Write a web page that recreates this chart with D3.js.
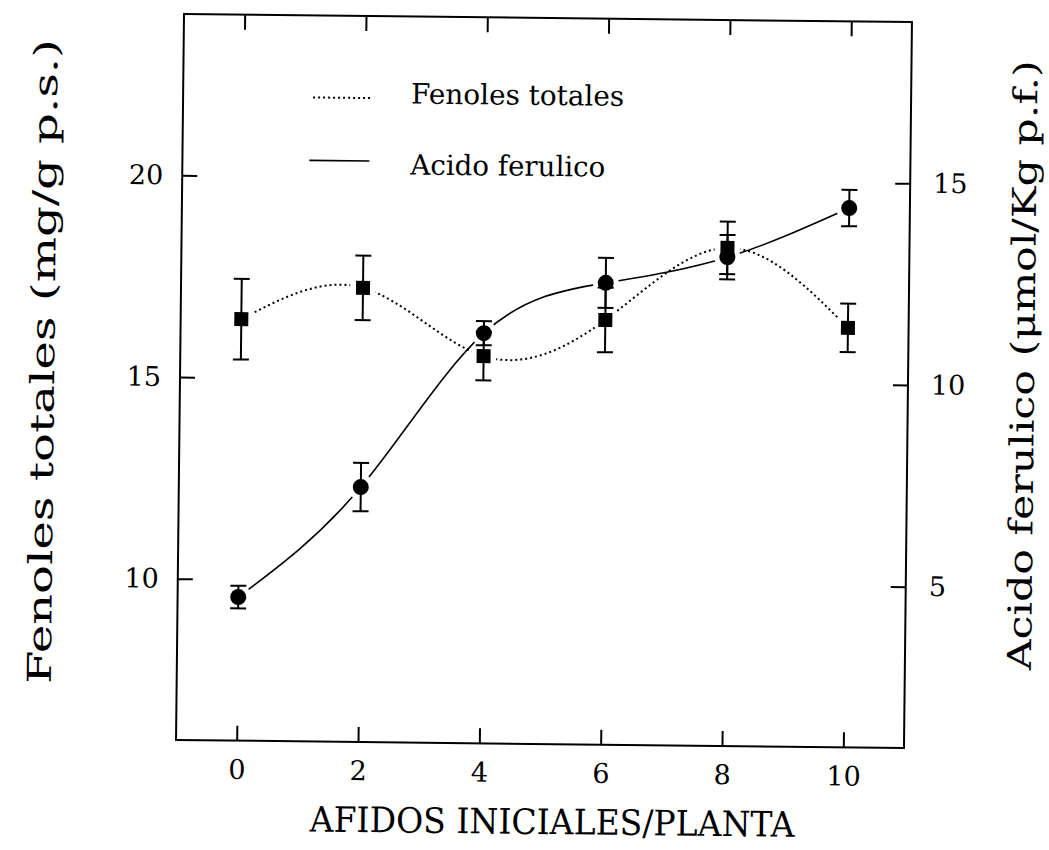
<!DOCTYPE html>
<html>
<head>
<meta charset="utf-8">
<script src="https://cdn.jsdelivr.net/npm/d3@7"></script>
<style>
  body { margin: 0; background: #fff; }
  text { font-family: "DejaVu Serif", "Liberation Serif", serif; fill: #000; }
</style>
</head>
<body>
<svg id="chart"></svg>
<script>
// data
let afidos = [0, 2, 4, 6, 8, 10];
let fenoles = [16.45, 17.26, 15.6, 16.53, 18.35, 16.4];
let fenolesErr = [1.0, 0.8, 0.6, 0.8, 0.65, 0.6];
let ferulico = [4.56, 7.32, 11.17, 12.45, 13.12, 14.37];
let ferulicoErr = [0.28, 0.6, 0.3, 0.62, 0.55, 0.45];
let xTicks = [0, 2, 4, 6, 8, 10];
let leftTicks = [10, 15, 20];
let rightTicks = [5, 10, 15];

let W = 1049, H = 850;
let margin = {top: 18, right: 141, bottom: 106, left: 180};
let width = W - margin.left - margin.right;
let height = H - margin.top - margin.bottom;

let svg = d3.select('#chart').attr('width', W).attr('height', H);
// the scanned figure sits slightly tilted
let root = svg.append('g').attr('transform', 'rotate(0.63, 544, 380)');
let g = root.append('g').attr('transform', 'translate(' + margin.left + ',' + margin.top + ')');

let x = d3.scaleLinear().domain([-1, 11]).range([0, width]);
let yL = d3.scaleLinear().domain([6, 24]).range([height, 0]);
let yR = d3.scaleLinear().domain([1, 19]).range([height, 0]);

// frame
g.append('rect').attr('width', width).attr('height', height)
  .attr('fill', 'none').attr('stroke', '#000').attr('stroke-width', 2);

// axes with inward ticks
let tk = 15;
let bottomAxis = d3.axisBottom(x).tickValues(xTicks).tickSize(-tk).tickPadding(19);
let topAxis = d3.axisTop(x).tickValues(xTicks).tickSize(-tk).tickFormat('');
let leftAxis = d3.axisLeft(yL).tickValues(leftTicks).tickSize(-tk).tickPadding(19);
let rightAxis = d3.axisRight(yR).tickValues(rightTicks).tickSize(-tk).tickPadding(23);

function styleAxis(sel) {
  sel.select('.domain').remove();
  sel.selectAll('line').attr('stroke', '#000').attr('stroke-width', 2);
  sel.selectAll('text').style('font-size', '27px').attr('font-family', null);
}
g.append('g').attr('transform', 'translate(0,' + height + ')').call(bottomAxis).call(styleAxis);
g.append('g').call(topAxis).call(styleAxis);
g.append('g').call(leftAxis).call(styleAxis);
g.append('g').attr('transform', 'translate(' + width + ',0)').call(rightAxis).call(styleAxis);

// curves broken around their own markers
function addMask(id, ys) {
  let m = svg.append('defs').append('mask').attr('id', id).attr('maskUnits', 'userSpaceOnUse')
    .attr('x', -50).attr('y', -50).attr('width', W + 100).attr('height', H + 100);
  m.append('rect').attr('x', -50).attr('y', -50).attr('width', W + 100).attr('height', H + 100).attr('fill', '#fff');
  m.selectAll('circle').data(afidos).enter().append('circle')
    .attr('cx', (d) => x(d)).attr('cy', (d, i) => ys[i]).attr('r', 13).attr('fill', '#000');
}
addMask('mFen', fenoles.map((v) => yL(v)));
addMask('mFer', ferulico.map((v) => yR(v)));

let lineFen = d3.line().x((d, i) => x(afidos[i])).y((d) => yL(d)).curve(d3.curveNatural);
let lineFer = d3.line().x((d, i) => x(afidos[i])).y((d) => yR(d)).curve(d3.curveNatural);

g.append('path').datum(fenoles).attr('d', lineFen).attr('mask', 'url(#mFen)')
  .attr('fill', 'none').attr('stroke', '#000').attr('stroke-width', 2).attr('stroke-dasharray', '2,3');
g.append('path').datum(ferulico).attr('d', lineFer).attr('mask', 'url(#mFer)')
  .attr('fill', 'none').attr('stroke', '#000').attr('stroke-width', 1.6);

// error bars
function errorBars(vals, errs, y) {
  let eb = g.append('g').attr('stroke', '#000').attr('stroke-width', 2);
  afidos.forEach(function (a, i) {
    let cx = x(a), y0 = y(vals[i] - errs[i]), y1 = y(vals[i] + errs[i]);
    eb.append('line').attr('x1', cx).attr('x2', cx).attr('y1', y0).attr('y2', y1);
    eb.append('line').attr('x1', cx - 8).attr('x2', cx + 8).attr('y1', y0).attr('y2', y0);
    eb.append('line').attr('x1', cx - 8).attr('x2', cx + 8).attr('y1', y1).attr('y2', y1);
  });
}
errorBars(fenoles, fenolesErr, yL);
errorBars(ferulico, ferulicoErr, yR);

// markers
g.selectAll('.sq').data(fenoles).enter().append('rect').attr('class', 'sq')
  .attr('x', (d, i) => x(afidos[i]) - 7).attr('y', (d) => yL(d) - 7)
  .attr('width', 14).attr('height', 14).attr('fill', '#000');
g.selectAll('.ci').data(ferulico).enter().append('circle').attr('class', 'ci')
  .attr('cx', (d, i) => x(afidos[i])).attr('cy', (d) => yR(d)).attr('r', 8).attr('fill', '#000');

// legend
root.append('line').attr('x1', 310).attr('x2', 368).attr('y1', 100).attr('y2', 100)
  .attr('stroke', '#000').attr('stroke-width', 2).attr('stroke-dasharray', '2,3');
root.append('text').attr('x', 408).attr('y', 105).style('font-size', '28px')
  .attr('textLength', 213).attr('lengthAdjust', 'spacingAndGlyphs').text('Fenoles totales');
root.append('line').attr('x1', 307).attr('x2', 367).attr('y1', 163).attr('y2', 163)
  .attr('stroke', '#000').attr('stroke-width', 1.6);
root.append('text').attr('x', 408).attr('y', 176).style('font-size', '28px')
  .attr('textLength', 195).attr('lengthAdjust', 'spacingAndGlyphs').text('Acido ferulico');

// axis titles
root.append('text').attr('x', 557).attr('y', 834).attr('text-anchor', 'middle')
  .style('font-size', '35px').attr('textLength', 485).attr('lengthAdjust', 'spacingAndGlyphs')
  .text('AFIDOS INICIALES/PLANTA');
root.append('text').attr('transform', 'translate(54,367) rotate(-90)').attr('text-anchor', 'middle')
  .style('font-size', '33px').attr('textLength', 645).attr('lengthAdjust', 'spacingAndGlyphs')
  .text('Fenoles totales (mg/g p.s.)');
root.append('text').attr('transform', 'translate(1034,360) rotate(-90)').attr('text-anchor', 'middle')
  .style('font-size', '33px').attr('textLength', 610).attr('lengthAdjust', 'spacingAndGlyphs')
  .text('Acido ferulico (\u03BCmol/Kg p.f.)');
</script>
</body>
</html>
